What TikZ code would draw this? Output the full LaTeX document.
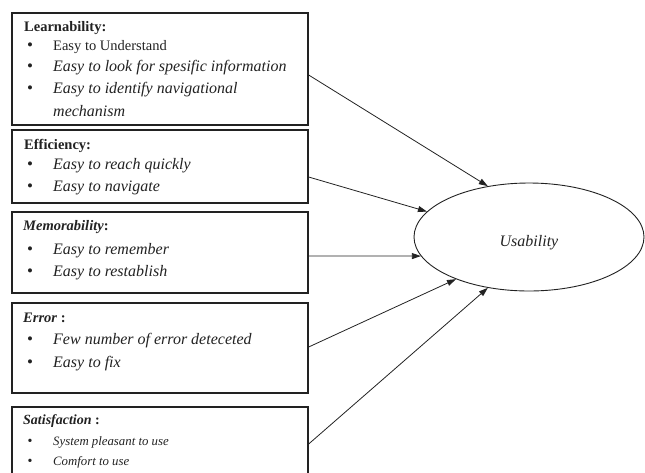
\documentclass[tikz,border=0pt]{standalone}
\usepackage{fontspec}
\setmainfont{Liberation Serif}
\usetikzlibrary{shapes.geometric,arrows.meta}
\definecolor{ink}{HTML}{222222}
\begin{document}
\begin{tikzpicture}[x=1pt,y=-1pt,
  box/.style={draw=ink,line width=1.3pt,rectangle,inner sep=0pt},
  hd/.style={anchor=west,inner sep=0pt,text=ink,font=\fontsize{14.5}{16}\selectfont\bfseries},
  hdi/.style={anchor=west,inner sep=0pt,text=ink,font=\fontsize{14.5}{16}\selectfont\bfseries},
  it/.style={anchor=west,inner sep=0pt,text=ink,font=\fontsize{16}{18}\selectfont\itshape},
  sm/.style={anchor=west,inner sep=0pt,text=ink,font=\fontsize{12.8}{14}\selectfont\itshape},
  up/.style={anchor=west,inner sep=0pt,text=ink,font=\fontsize{14.5}{16}\selectfont},
  bl/.style={anchor=center,inner sep=0pt,text=ink,font=\fontsize{17}{18}\selectfont},
  arr/.style={draw=ink,line width=0.8pt,-{Triangle[length=9pt,width=6pt]}}]
\useasboundingbox (0,0) rectangle (645,472);
% boxes
\node[box,minimum width=296pt,minimum height=112pt] (b1) at (160,69) {};
\node[box,minimum width=296pt,minimum height=73pt] (b2) at (160,166.5) {};
\node[box,minimum width=296pt,minimum height=81pt] (b3) at (160,252.5) {};
\node[box,minimum width=296pt,minimum height=90pt] (b4) at (160,348) {};
\node[box,minimum width=296pt,minimum height=70pt] (b5) at (160,442) {};
% ellipse
\node[ellipse,draw=ink,line width=0.9pt,minimum width=230pt,minimum height=108pt,inner sep=0pt] (u) at (529,237) {};
\node[text=ink,font=\fontsize{16}{18}\selectfont\itshape] (ut) at (529,243) {Usability};
% box 1
\node[hd] (h1) at (24,28) {Learnability:};
\node[bl] (p1a) at (30,47) {\textbullet};
\node[up] (t1a) at (53,47) {Easy to Understand};
\node[bl] (p1b) at (30,68) {\textbullet};
\node[it] (t1b) at (53,68) {Easy to look for spesific information};
\node[bl] (p1c) at (30,90) {\textbullet};
\node[it] (t1c) at (53,90) {Easy to identify navigational};
\node[it] (t1d) at (53,111) {mechanism};
% box 2
\node[hd] (h2) at (24,146) {Efficiency:};
\node[bl] (p2a) at (30,166) {\textbullet};
\node[it] (t2a) at (53,166) {Easy to reach quickly};
\node[bl] (p2b) at (30,188) {\textbullet};
\node[it] (t2b) at (53,188) {Easy to navigate};
% box 3
\node[hdi] (h3) at (23,227) {\textit{Memorability}:};
\node[bl] (p3a) at (30,251) {\textbullet};
\node[it] (t3a) at (53,251) {Easy to remember};
\node[bl] (p3b) at (30,273) {\textbullet};
\node[it] (t3b) at (53,273) {Easy to restablish};
% box 4
\node[hdi] (h4) at (23,318) {\textit{Error} :};
\node[bl] (p4a) at (30,341) {\textbullet};
\node[it] (t4a) at (53,341) {Few number of error deteceted};
\node[bl] (p4b) at (30,364) {\textbullet};
\node[it] (t4b) at (53,364) {Easy to fix};
% box 5
\node[hdi,font=\fontsize{14}{16}\selectfont\bfseries] (h5) at (23,421) {\textit{Satisfaction} :};
\node[bl,font=\fontsize{14}{16}\selectfont] (p5a) at (30,442) {\textbullet};
\node[sm] (t5a) at (53,442) {System pleasant to use};
\node[bl,font=\fontsize{14}{16}\selectfont] (p5b) at (30,462) {\textbullet};
\node[sm] (t5b) at (53,462) {Comfort to use};
% arrows
\draw[arr] ([yshift=-6pt]b1.east) -- (u.129);
\draw[arr] ([yshift=-10.5pt]b2.east) -- (u.166);
\draw[arr] ([yshift=-3.5pt]b3.east) -- (u.190);
\draw[arr] ([yshift=1pt]b4.east) -- (u.210);
\draw[arr] ([yshift=-2pt]b5.east) -- (u.231);
\end{tikzpicture}
\end{document}
